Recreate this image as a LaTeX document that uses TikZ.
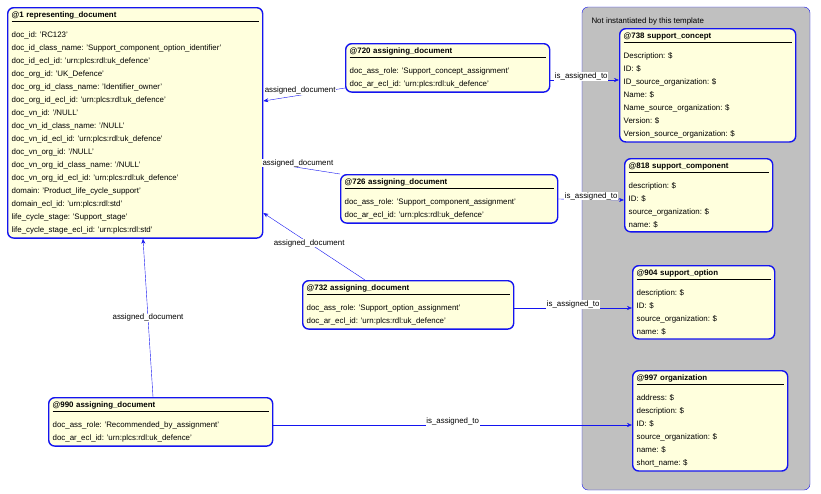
\documentclass[tikz,border=0pt]{standalone}
\usepackage{fontspec}
\setmainfont{Liberation Sans}
\frenchspacing
\usetikzlibrary{arrows.meta,positioning}
\definecolor{boxfill}{RGB}{255,255,221}
\definecolor{boxline}{RGB}{20,20,240}
\definecolor{areafill}{RGB}{192,192,192}
\tikzset{
  entity/.style={draw=boxline,line width=1.4pt,fill=boxfill,rounded corners=6pt,
    anchor=north west,align=left,inner sep=4pt,font=\fontsize{7.9}{13}\selectfont},
  link/.style={draw=boxline,-{Stealth[length=5pt,width=4pt]}},
  tag/.style={font=\fontsize{7.9}{9}\selectfont,fill=white,inner sep=0.5pt}
}
\newcommand{\etitle}[1]{\textbf{#1}\\[-9pt]\rule{\linewidth}{0.6pt}\\[3pt]}
\begin{document}
\begin{tikzpicture}[x=1pt,y=-1pt]
\useasboundingbox (0,0) rectangle (821,493);
% template area
\draw[boxline,fill=areafill,rounded corners=6pt] (582,7) rectangle (810,490);
\node[anchor=west,font=\fontsize{7.9}{9}\selectfont] (area) at (588,21) {Not instantiated by this template};
% entities
\node[entity,text width=247pt] (n1) at (7,7) {\etitle{@1 representing\_document}
doc\_id: 'RC123'\\
doc\_id\_class\_name: 'Support\_component\_option\_identifier'\\
doc\_id\_ecl\_id: 'urn:plcs:rdl:uk\_defence'\\
doc\_org\_id: 'UK\_Defence'\\
doc\_org\_id\_class\_name: 'Identifier\_owner'\\
doc\_org\_id\_ecl\_id: 'urn:plcs:rdl:uk\_defence'\\
doc\_vn\_id: '/NULL'\\
doc\_vn\_id\_class\_name: '/NULL'\\
doc\_vn\_id\_ecl\_id: 'urn:plcs:rdl:uk\_defence'\\
doc\_vn\_org\_id: '/NULL'\\
doc\_vn\_org\_id\_class\_name: '/NULL'\\
doc\_vn\_org\_id\_ecl\_id: 'urn:plcs:rdl:uk\_defence'\\
domain: 'Product\_life\_cycle\_support'\\
domain\_ecl\_id: 'urn:plcs:rdl:std'\\
life\_cycle\_stage: 'Support\_stage'\\
life\_cycle\_stage\_ecl\_id: 'urn:plcs:rdl:std'};
\node[entity,text width=196pt] (n720) at (345,43) {\etitle{@720 assigning\_document}
doc\_ass\_role: 'Support\_concept\_assignment'\\
doc\_ar\_ecl\_id: 'urn:plcs:rdl:uk\_defence'};
\node[entity,text width=209pt] (n726) at (340,174) {\etitle{@726 assigning\_document}
doc\_ass\_role: 'Support\_component\_assignment'\\
doc\_ar\_ecl\_id: 'urn:plcs:rdl:uk\_defence'};
\node[entity,text width=203pt] (n732) at (302,280) {\etitle{@732 assigning\_document}
doc\_ass\_role: 'Support\_option\_assignment'\\
doc\_ar\_ecl\_id: 'urn:plcs:rdl:uk\_defence'};
\node[entity,text width=216pt] (n990) at (48,397) {\etitle{@990 assigning\_document}
doc\_ass\_role: 'Recommended\_by\_assignment'\\
doc\_ar\_ecl\_id: 'urn:plcs:rdl:uk\_defence'};
\node[entity,text width=168pt] (n738) at (619,28) {\etitle{@738 support\_concept}
Description: \$\\
ID: \$\\
ID\_source\_organization: \$\\
Name: \$\\
Name\_source\_organization: \$\\
Version: \$\\
Version\_source\_organization: \$};
\node[entity,text width=140pt] (n818) at (624,158) {\etitle{@818 support\_component}
description: \$\\
ID: \$\\
source\_organization: \$\\
name: \$};
\node[entity,text width=134pt] (n904) at (632,265) {\etitle{@904 support\_option}
description: \$\\
ID: \$\\
source\_organization: \$\\
name: \$};
\node[entity,text width=147pt] (n997) at (632,370) {\etitle{@997 organization}
address: \$\\
description: \$\\
ID: \$\\
source\_organization: \$\\
name: \$\\
short\_name: \$};
% assigned_document
\draw[link] (n720.west |- 0,88) -- node[tag,above,pos=0.55] {assigned\_document} (n1.east |- 0,101);
\draw[link] (n726.north west) -- node[tag,above,pos=0.55] {assigned\_document} (n1.east |- 0,162);
\draw[link] (365,0 |- n732.north) -- node[tag,pos=0.55] {assigned\_document} (n1.east |- 0,213);
\draw[link] (153,0 |- n990.north) -- node[tag,pos=0.5] {assigned\_document} (143,0 |- n1.south);
% is_assigned_to
\draw[link] (n720.east |- 0,80) -- node[tag,above=-1pt,pos=0.45] {is\_assigned\_to} (n738.west |- 0,80);
\draw[link] (n726.east |- 0,199) -- node[tag,above=-1pt,pos=0.5] {is\_assigned\_to} (n818.west |- 0,200);
\draw[link] (n732.east |- 0,308) -- node[tag,above=-1pt,pos=0.5] {is\_assigned\_to} (n904.west |- 0,308);
\draw[link] (n990.east |- 0,425) -- node[tag,above=-1pt,pos=0.5] {is\_assigned\_to} (n997.west |- 0,425);
\end{tikzpicture}
\end{document}
